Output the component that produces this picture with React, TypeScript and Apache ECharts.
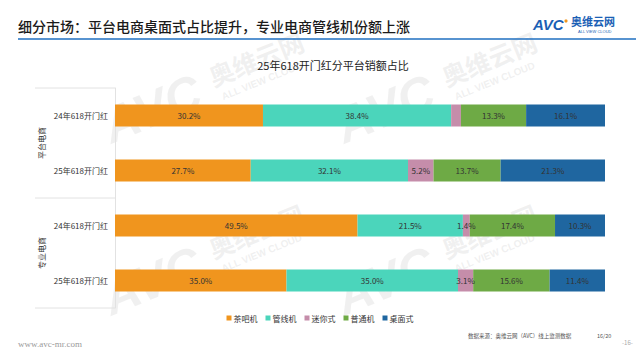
import React, { useEffect, useRef } from "react";
import * as echarts from "echarts";

const categories = ["24年618开门红", "25年618开门红", "24年618开门红", "25年618开门红"];
const seriesNames = ["茶吧机", "管线机", "迷你式", "普通机", "桌面式"];
const teaBar = [30.2, 27.7, 49.5, 35.0];
const pipeline = [38.4, 32.1, 21.5, 35.0];
const mini = [2.0, 5.2, 1.4, 3.1];
const normal = [13.3, 13.7, 17.4, 15.6];
const desktop = [16.1, 21.3, 10.3, 11.4];
const hiddenLabels: Record<string, number[]> = { 迷你式: [0] };
const groups = ["平台电商", "专业电商"];
const colors = ["#F0951E", "#4BD5BB", "#C58DAA", "#6EAA45", "#1F66A0"];

const FONT = "'Noto Sans CJK SC', 'Noto Sans', sans-serif";
const WM = "rgba(205,205,205,0.3)";

function watermark(x: number, y: number) {
  return {
    type: "group",
    x,
    y,
    rotation: (22 * Math.PI) / 180,
    silent: true,
    z: 100,
    children: [
      {
        type: "text",
        x: 0,
        y: 0,
        style: {
          text: "AVC",
          fontSize: 50,
          fontWeight: "bold",
          fontStyle: "italic",
          fontFamily: "Arial, 'Liberation Sans', sans-serif",
          fill: WM,
          textVerticalAlign: "middle",
        },
      },
      {
        type: "text",
        x: 116,
        y: -8,
        style: {
          text: "奥维云网",
          fontSize: 25,
          fontWeight: "bold",
          fontFamily: FONT,
          fill: WM,
          textVerticalAlign: "middle",
        },
      },
      {
        type: "text",
        x: 120,
        y: 15,
        style: {
          text: "ALL VIEW CLOUD",
          fontSize: 10,
          fontWeight: "bold",
          fontFamily: "Arial, sans-serif",
          fill: WM,
          textVerticalAlign: "middle",
        },
      },
    ],
  };
}

export default function App() {
  const ref = useRef<HTMLDivElement>(null);
  useEffect(() => {
    if (!ref.current) return;
    const chart = echarts.init(ref.current, null, { renderer: "svg" });
    const dataSets = [teaBar, pipeline, mini, normal, desktop];
    const series = seriesNames.map((name, i) => ({
      name,
      type: "bar",
      stack: "total",
      barCategoryGap: "60%",
      itemStyle: { color: colors[i] },
      label: {
        show: true,
        position: "inside",
        fontSize: 8,
        color: "#333",
        fontFamily: FONT,
        formatter: (p: any) => p.value.toFixed(1) + "%",
      },
      data: dataSets[i].map((v, j) =>
        hiddenLabels[name] && hiddenLabels[name].includes(j)
          ? { value: v, label: { show: false } }
          : v
      ),
    }));
    chart.setOption({
      animation: false,
      textStyle: { fontFamily: FONT },
      title: {
        text: "25年618开门红分平台销额占比",
        left: 328,
        top: 54,
        textAlign: "center",
        textStyle: { fontSize: 11, fontWeight: "normal", color: "#222", fontFamily: FONT },
      },
      legend: {
        data: seriesNames,
        bottom: 33,
        left: "center",
        itemWidth: 5,
        itemHeight: 5,
        itemGap: 8,
        icon: "rect",
        textStyle: { fontSize: 8, color: "#333", padding: [0, 0, 0, -3] },
      },
      grid: { left: 115, right: 35, top: 88, bottom: 52, containLabel: false },
      xAxis: {
        type: "value",
        min: 0,
        max: 100,
        show: false,
      },
      yAxis: {
        type: "category",
        inverse: true,
        data: categories,
        axisLine: { show: true, lineStyle: { color: "#e2e2e2" } },
        axisTick: { show: false },
        axisLabel: { fontSize: 8, color: "#333", margin: 7 },
      },
      series,
      graphic: [
        watermark(105, 128),
        watermark(338, 128),
        watermark(105, 300),
        watermark(338, 300),
        {
          type: "text",
          left: 18,
          top: 19,
          style: { text: "细分市场：平台电商桌面式占比提升，专业电商管线机份额上涨", fontSize: 14, fontWeight: 500, fill: "#1a1a1a", fontFamily: FONT },
        },
        { type: "line", shape: { x1: 18, y1: 39, x2: 636, y2: 39 }, style: { stroke: "#1F6FC0", lineWidth: 1.5 } },
        {
          type: "text",
          left: 533,
          top: 17,
          style: { text: "AVC", fontSize: 15, fontWeight: "bold", fontStyle: "italic", fill: "#1B5FB5", fontFamily: "Arial, 'Liberation Sans', sans-serif" },
        },
        { type: "circle", shape: { cx: 566, cy: 21, r: 1.6 }, style: { fill: "#F0951E" } },
        {
          type: "text",
          left: 571,
          top: 15,
          style: { text: "奥维云网", fontSize: 11, fontWeight: "bold", fill: "#1B5FB5", fontFamily: FONT },
        },
        {
          type: "text",
          left: 578,
          top: 29,
          style: { text: "ALL VIEW CLOUD", fontSize: 4, fill: "#1B5FB5", fontFamily: "Arial, sans-serif" },
        },
        { type: "line", shape: { x1: 35, y1: 88, x2: 115, y2: 88 }, style: { stroke: "#e2e2e2", lineWidth: 1 } },
        { type: "line", shape: { x1: 35, y1: 198, x2: 115, y2: 198 }, style: { stroke: "#e2e2e2", lineWidth: 1 } },
        { type: "line", shape: { x1: 35, y1: 308, x2: 115, y2: 308 }, style: { stroke: "#e2e2e2", lineWidth: 1 } },
        {
          type: "text",
          x: 41,
          y: 143,
          rotation: Math.PI / 2,
          style: { text: groups[0], fontSize: 8, fill: "#333", textAlign: "center", textVerticalAlign: "middle", fontFamily: FONT },
        },
        {
          type: "text",
          x: 41,
          y: 253,
          rotation: Math.PI / 2,
          style: { text: groups[1], fontSize: 8, fill: "#333", textAlign: "center", textVerticalAlign: "middle", fontFamily: FONT },
        },
        {
          type: "text",
          left: 18,
          top: 339,
          style: { text: "www.avc-mr.com", fontSize: 9, fill: "#9a9a9a", fontFamily: "'Liberation Serif', 'DejaVu Serif', serif" },
        },
        {
          type: "text",
          left: 468,
          top: 333,
          style: { text: "数据来源：奥维云网（AVC）线上监测数据", fontSize: 5.5, fill: "#555", fontFamily: FONT },
        },
        {
          type: "text",
          left: 597,
          top: 333,
          style: { text: "16/20", fontSize: 5.5, fill: "#555", fontFamily: FONT },
        },
        {
          type: "text",
          left: 622,
          top: 339,
          style: { text: "-16-", fontSize: 6, fill: "#aaa", fontFamily: FONT },
        },
      ],
    });
    return () => chart.dispose();
  }, []);
  return <div ref={ref} style={{ width: 640, height: 360, position: "absolute", left: 0, top: 0 }} />;
}
